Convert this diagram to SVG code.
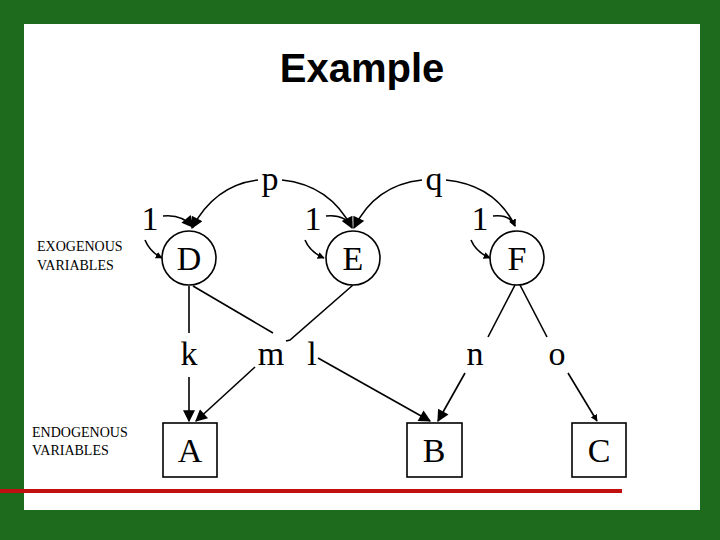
<svg xmlns="http://www.w3.org/2000/svg" width="720" height="540" viewBox="0 0 720 540">
<defs>
<marker id="ah" viewBox="0 0 10 10" refX="9" refY="5" markerWidth="7" markerHeight="7" markerUnits="userSpaceOnUse" orient="auto-start-reverse"><path d="M0,0L10,5L0,10z" fill="#000"/></marker>
<marker id="ahb" viewBox="0 0 10 10" refX="9" refY="5" markerWidth="14" markerHeight="12" markerUnits="userSpaceOnUse" orient="auto-start-reverse"><path d="M0,0L10,5L0,10z" fill="#000"/></marker>
</defs>
<style>
.l{font-family:"Liberation Serif",serif;font-size:34px;fill:#000;text-anchor:middle}
.s{font-family:"Liberation Serif",serif;font-size:14px;fill:#000}
.e{fill:none;stroke:#000;stroke-width:1.6}
.n{fill:#fff;stroke:#000;stroke-width:1.6}
</style>
<rect width="720" height="540" fill="#1e6b1e"/>
<rect x="24" y="24" width="676" height="486" fill="#fff"/>
<line x1="0" y1="491" x2="622" y2="491" stroke="#c01010" stroke-width="4"/>
<text x="362" y="82" font-family="Liberation Sans,sans-serif" font-size="40" font-weight="bold" text-anchor="middle">Example</text>
<text class="s" x="37" y="251">EXOGENOUS</text>
<text class="s" x="37" y="270">VARIABLES</text>
<text class="s" x="32" y="437">ENDOGENOUS</text>
<text class="s" x="32" y="455">VARIABLES</text>
<g id="connectors">
<path class="e" d="M258,180 Q215,185 192,228" marker-end="url(#ahb)"/>
<path class="e" d="M282,180 Q330,185 352,228" marker-end="url(#ahb)"/>
<path class="e" d="M422,180 Q375,185 354,228" marker-end="url(#ahb)"/>
<path class="e" d="M446,180 Q495,185 515,226" marker-end="url(#ah)"/>
<path class="e" d="M163,216 Q182,214 193,227" marker-end="url(#ahb)"/>
<path class="e" d="M326,216 Q345,214 352,227" marker-end="url(#ah)"/>
<path class="e" d="M493,216 Q510,214 515,226" marker-end="url(#ah)"/>
<path class="e" d="M145,240 Q150,252 162,258" marker-end="url(#ah)"/>
<path class="e" d="M305,240 Q310,252 324,258" marker-end="url(#ah)"/>
<path class="e" d="M471,240 Q476,252 490,258" marker-end="url(#ah)"/>
<line class="e" x1="189" y1="286" x2="189" y2="333"/>
<line class="e" x1="189" y1="377" x2="189" y2="421" marker-end="url(#ahb)"/>
<line class="e" x1="193" y1="286" x2="273" y2="333"/>
<line class="e" x1="318" y1="358" x2="430" y2="421" marker-end="url(#ahb)"/>
<polyline class="e" points="353,285 290,340 286,341"/>
<line class="e" x1="255" y1="367" x2="196" y2="421" marker-end="url(#ahb)"/>
<line class="e" x1="515" y1="285" x2="488" y2="337"/>
<line class="e" x1="465" y1="373" x2="438" y2="421" marker-end="url(#ahb)"/>
<line class="e" x1="520" y1="285" x2="547" y2="337"/>
<line class="e" x1="568" y1="373" x2="597" y2="421" marker-end="url(#ah)"/>
</g>
<text class="l" x="270" y="190">p</text>
<text class="l" x="434" y="190">q</text>
<text class="l" x="150" y="230">1</text>
<text class="l" x="313" y="230">1</text>
<text class="l" x="480" y="230">1</text>
<text class="l" x="189" y="365">k</text>
<text class="l" x="271" y="365">m</text>
<text class="l" x="312" y="365">l</text>
<text class="l" x="475" y="365">n</text>
<text class="l" x="557" y="365">o</text>
<g id="D"><circle class="n" cx="189" cy="258" r="27"/><text class="l" x="189" y="270">D</text></g>
<g id="E"><circle class="n" cx="353" cy="258" r="27"/><text class="l" x="353" y="270">E</text></g>
<g id="F"><circle class="n" cx="517" cy="258" r="27"/><text class="l" x="517" y="270">F</text></g>
<g id="A"><rect class="n" x="163" y="423" width="54" height="54"/><text class="l" x="190" y="462">A</text></g>
<g id="B"><rect class="n" x="407" y="423" width="55" height="54"/><text class="l" x="434" y="462">B</text></g>
<g id="C"><rect class="n" x="572" y="423" width="54" height="54"/><text class="l" x="599" y="462">C</text></g>
</svg>
